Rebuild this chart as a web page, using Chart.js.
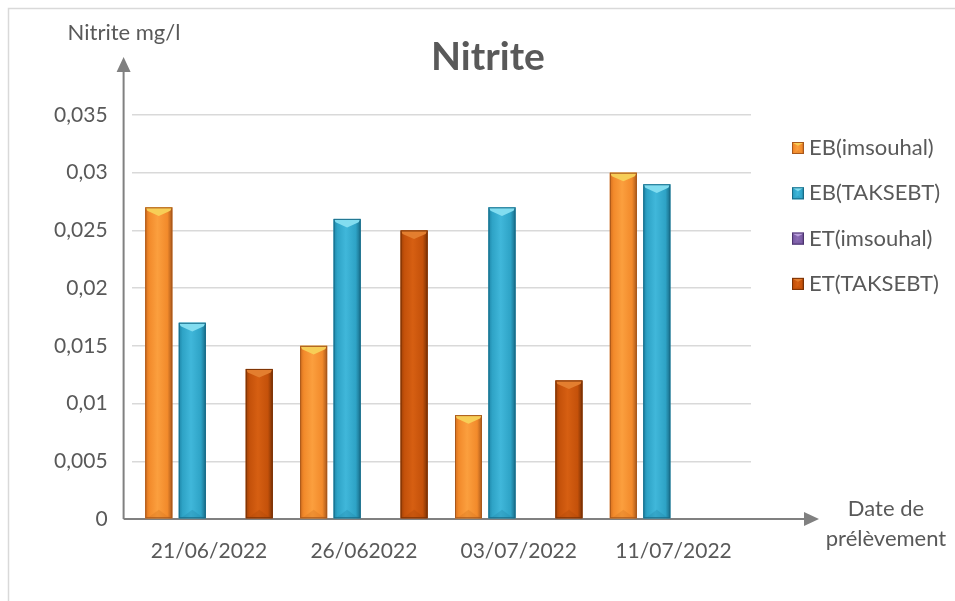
<!DOCTYPE html>
<html>
<head>
<meta charset="utf-8">
<script src="https://cdn.jsdelivr.net/npm/chart.js@4.4.1/dist/chart.umd.min.js"></script>
<style>
  html, body { margin: 0; padding: 0; background: #fff; }
  #wrap { width: 955px; height: 601px; }
</style>
</head>
<body>
<div id="wrap"><canvas id="nitriteChart" width="955" height="601"></canvas></div>
<script>
// sampling dates and nitrite readings (mg/l)
const dates = ['21/06/2022', '26/062022', '03/07/2022', '11/07/2022'];
const seriesNames = ['EB(imsouhal)', 'EB(TAKSEBT)', 'ET(imsouhal)', 'ET(TAKSEBT)'];
const ebImsouhal = [0.027, 0.015, 0.009, 0.030];
const ebTaksebt = [0.017, 0.026, 0.027, 0.029];
const etImsouhal = [0, 0, 0, 0];
const etTaksebt = [0.013, 0.025, 0.012, null];
const yTicks = [0, 0.005, 0.01, 0.015, 0.02, 0.025, 0.03, 0.035];

const FONT = 'Lato, "Open Sans", sans-serif';
const TXT = '#595959';

// bevelled colour sets, one per series
const palettes = [
  {edge: '#D46E1E', body: '#F28A2B', light: '#FB9F3E', dark: '#A9581B', top: '#F7CE57', bottom: '#D8751F'},
  {edge: '#1E86A8', body: '#2EA3C6', light: '#40B7DA', dark: '#186C88', top: '#82DDF0', bottom: '#2389AB'},
  {edge: '#5F4386', body: '#7B5CA5', light: '#8A6BB4', dark: '#4C346E', top: '#BBA0DD', bottom: '#6B4F95'},
  {edge: '#9E4006', body: '#C4510A', light: '#D65F12', dark: '#7A3104', top: '#E37E2F', bottom: '#AE4808'}
];

function shadeBar(ctx, l, top, w, h, pal) {
  const r = l + w, cx = l + w / 2;
  const g = ctx.createLinearGradient(l, 0, r, 0);
  g.addColorStop(0, pal.edge);
  g.addColorStop(0.14, pal.body);
  g.addColorStop(0.45, pal.light);
  g.addColorStop(0.82, pal.body);
  g.addColorStop(1, pal.dark);
  ctx.fillStyle = g;
  ctx.fillRect(l, top, w, h);
  // top face of the bevel
  const bh = Math.min(w * 0.32, h / 2);
  ctx.beginPath();
  ctx.moveTo(l, top); ctx.lineTo(r, top);
  ctx.lineTo(r - 2, top + bh * 0.4); ctx.lineTo(cx, top + bh); ctx.lineTo(l + 2, top + bh * 0.4);
  ctx.closePath();
  ctx.fillStyle = pal.top;
  ctx.fill();
  // faint bottom bevel
  ctx.globalAlpha = 0.35;
  ctx.beginPath();
  ctx.moveTo(l + 2, top + h); ctx.lineTo(r - 2, top + h); ctx.lineTo(cx, top + h - bh);
  ctx.closePath();
  ctx.fillStyle = pal.bottom;
  ctx.fill();
  ctx.globalAlpha = 1;
  ctx.strokeStyle = pal.dark;
  ctx.lineWidth = 1;
  ctx.strokeRect(l + 0.5, top + 0.5, w - 1, h - 1);
}

const excelLook = {
  id: 'excelLook',
  beforeDraw(chart) {
    const ctx = chart.ctx;
    ctx.save();
    ctx.fillStyle = '#fff';
    ctx.fillRect(0, 0, chart.width, chart.height);
    ctx.strokeStyle = '#D9D9D9';
    ctx.lineWidth = 1.5;
    ctx.strokeRect(8.5, 8.5, chart.width + 20, chart.height + 20);
    ctx.restore();
  },
  beforeDatasetsDraw(chart) {
    const ctx = chart.ctx, area = chart.chartArea;
    const ax = area.left - 8;
    const ay = chart.scales.y.getPixelForValue(0);
    ctx.save();
    ctx.strokeStyle = '#808080';
    ctx.fillStyle = '#808080';
    ctx.lineWidth = 2;
    ctx.beginPath();
    ctx.moveTo(ax, ay); ctx.lineTo(ax, 70);
    ctx.moveTo(ax, ay); ctx.lineTo(806, ay);
    ctx.stroke();
    // arrow heads
    ctx.beginPath();
    ctx.moveTo(ax, 57); ctx.lineTo(ax - 7, 72); ctx.lineTo(ax + 7, 72); ctx.closePath();
    ctx.fill();
    ctx.beginPath();
    ctx.moveTo(819, ay); ctx.lineTo(804, ay - 7); ctx.lineTo(804, ay + 7); ctx.closePath();
    ctx.fill();
    // axis captions
    ctx.fillStyle = TXT;
    ctx.font = '22px ' + FONT;
    ctx.textAlign = 'center';
    ctx.textBaseline = 'middle';
    ctx.fillText('Nitrite mg/l', 124, 33);
    ctx.fillText('Date de', 886, 509);
    ctx.fillText('prélèvement', 886, 539);
    ctx.restore();
  },
  afterDatasetsDraw(chart) {
    const ctx = chart.ctx;
    ctx.save();
    chart.data.datasets.forEach((ds, i) => {
      const meta = chart.getDatasetMeta(i);
      meta.data.forEach(bar => {
        const p = bar.getProps(['x', 'y', 'base', 'width'], true);
        const h = p.base - p.y;
        if (!(h > 0.5)) return;
        shadeBar(ctx, p.x - p.width / 2, p.y, p.width, h, palettes[i]);
      });
    });
    // legend
    ctx.font = '22px ' + FONT;
    ctx.textAlign = 'left';
    ctx.textBaseline = 'middle';
    chart.data.datasets.forEach((ds, i) => {
      const cy = 148 + i * 45.3;
      shadeBar(ctx, 792, cy - 6, 12, 12, palettes[i]);
      ctx.fillStyle = TXT;
      ctx.fillText(ds.label, 809, cy);
    });
    ctx.restore();
  }
};

const makeSet = (i, values) => ({
  label: seriesNames[i],
  data: values,
  backgroundColor: palettes[i].body,
  borderWidth: 0,
  categoryPercentage: 0.865,
  barPercentage: 0.806
});

new Chart(document.getElementById('nitriteChart'), {
  type: 'bar',
  data: {
    labels: dates,
    datasets: [
      makeSet(0, ebImsouhal),
      makeSet(1, ebTaksebt),
      makeSet(2, etImsouhal),
      makeSet(3, etTaksebt)
    ]
  },
  options: {
    responsive: false,
    animation: false,
    layout: { padding: { left: 21, right: 0, top: 0, bottom: 0 } },
    plugins: {
      legend: { display: false },
      tooltip: { enabled: false },
      title: {
        display: true,
        text: 'Nitrite',
        color: TXT,
        font: { family: FONT, size: 39, weight: 'bold', lineHeight: 1.2 },
        padding: { top: 33.6, bottom: 34.6 }
      }
    },
    scales: {
      x: {
        offset: true,
        grid: { display: false, drawTicks: false },
        border: { display: false },
        ticks: {
          color: TXT,
          font: { family: FONT, size: 21 },
          padding: 20,
          autoSkip: false,
          maxRotation: 0
        },
        afterFit: s => { s.height = 82; }
      },
      y: {
        min: 0,
        max: 0.035,
        afterBuildTicks: s => { s.ticks = yTicks.map(v => ({ value: v })); },
        grid: { color: '#D9D9D9', lineWidth: 1.4, drawTicks: false },
        border: { display: false },
        ticks: {
          color: TXT,
          font: { family: FONT, size: 21 },
          padding: 24,
          callback: v => String(Number(v.toFixed(3))).replace('.', ',')
        },
        afterFit: s => { s.width = 110.6; }
      },
      // empty right-hand band that holds the legend area
      side: {
        position: 'right',
        display: true,
        grid: { display: false, drawTicks: false },
        border: { display: false },
        ticks: { display: false },
        afterFit: s => { s.width = 204; }
      }
    }
  },
  plugins: [excelLook]
});
</script>
</body>
</html>
